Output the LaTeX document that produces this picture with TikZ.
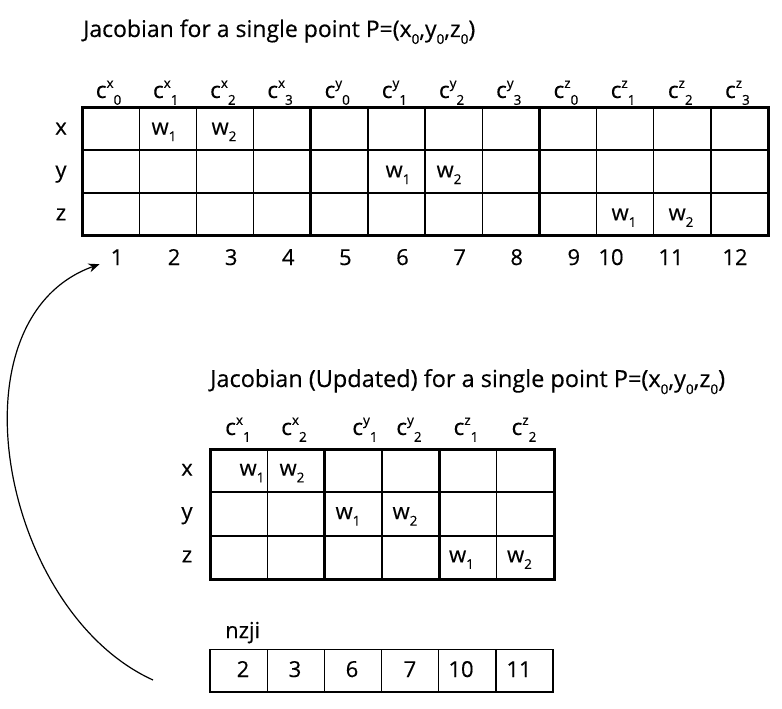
\documentclass[tikz,border=0pt]{standalone}
\usepackage{fontspec}
\setmainfont{Open Sans}[FakeBold=0.35]
\usetikzlibrary{positioning, arrows.meta, calc}

\newcommand{\jsup}[1]{\raisebox{0.45em}{\fontsize{13.5}{14}\selectfont #1}}
\newcommand{\jsub}[1]{\raisebox{-0.3em}{\fontsize{13.5}{14}\selectfont #1}}
\newcommand{\jc}[2]{c\jsup{#1}\jsub{#2}}
\newcommand{\jw}[1]{w\jsub{#1}}

\begin{document}
\begin{tikzpicture}[x=1pt, y=-1pt,
    lbl/.style={font=\fontsize{22}{26}\selectfont, inner sep=2pt, anchor=base},
    ttl/.style={font=\fontsize{23}{27}\selectfont, inner sep=0pt, anchor=base west},
    hdr/.style={font=\fontsize{22.5}{26}\selectfont, inner sep=1pt, anchor=base},
    gridthin/.style={line width=1.3pt},
    gridrow/.style={line width=2pt},
    gridthick/.style={line width=3pt},
    link/.style={line width=1.2pt, -{Stealth[length=11pt, width=9pt]}}]

    \useasboundingbox (0,0) rectangle (782,709);

    % Titre du haut
    \node[ttl] (titre1) at (83,37) {Jacobian for a single point P=(x\jsub{0},y\jsub{0},z\jsub{0})};

    % Grille du haut
    \foreach \i in {1,2,3,5,6,7,9,10,11}
        \draw[gridthin] (82+\i*57.17,107) -- (82+\i*57.17,235.7);
    \draw[gridrow] (82,149.9) -- (768,149.9) (82,192.8) -- (768,192.8);
    \draw[gridthick] (310.7,107) -- (310.7,235.7) (539.3,107) -- (539.3,235.7);
    \draw[gridthick] (82,107) rectangle (768,235.7);

    % En-tetes
    \foreach \v/\k [count=\i] in {x/0,x/1,x/2,x/3,y/0,y/1,y/2,y/3,z/0,z/1,z/2,z/3}
        \node[hdr] (h\i) at (82+\i*57.17-30.6,98) {\jc{\v}{\k}};

    \node[lbl] (rx) at (61,134.5) {x};
    \node[lbl] (ry) at (61,177.4) {y};
    \node[lbl] (rz) at (61,220.3) {z};

    % Poids
    \node[lbl] (wx1) at (164,134.5) {\jw{1}};
    \node[lbl] (wx2) at (224,134.5) {\jw{2}};
    \node[lbl] (wy1) at (398,177.4) {\jw{1}};
    \node[lbl] (wy2) at (449,177.4) {\jw{2}};
    \node[lbl] (wz1) at (624,220.3) {\jw{1}};
    \node[lbl] (wz2) at (681,220.3) {\jw{2}};

    % Numeros de colonnes
    \foreach \i in {1,...,9}
        \node[lbl] (n\i) at (117+\i*57.1-57.1,265) {\i};
    \node[lbl] (n10) at (611,265) {10};
    \node[lbl] (n11) at (671,265) {11};
    \node[lbl] (n12) at (735,265) {12};

    % Titre du bas
    \node[ttl, font=\fontsize{23.5}{27}\selectfont] (titre2) at (210,387) {Jacobian (Updated) for a single point P=(x\jsub{0},y\jsub{0},z\jsub{0})};

    % Grille du bas
    \foreach \i in {1,3,5}
        \draw[gridthin] (210+\i*57.33,449) -- (210+\i*57.33,579);
    \draw[gridrow] (210,492.3) -- (554,492.3) (210,535.7) -- (554,535.7);
    \draw[gridthick] (324.7,449) -- (324.7,579) (439.3,449) -- (439.3,579);
    \draw[gridthick] (210,449) rectangle (554,579);

    \node[hdr] (g1) at (238,435) {\jc{x}{1}};
    \node[hdr] (g2) at (294,435) {\jc{x}{2}};
    \node[hdr] (g3) at (365,435) {\jc{y}{1}};
    \node[hdr] (g4) at (409,435) {\jc{y}{2}};
    \node[hdr] (g5) at (466,435) {\jc{z}{1}};
    \node[hdr] (g6) at (524,435) {\jc{z}{2}};

    \node[lbl] (sx) at (187,475.7) {x};
    \node[lbl] (sy) at (187,519) {y};
    \node[lbl] (sz) at (187,562.3) {z};

    \node[lbl] (vx1) at (252,475.7) {\jw{1}};
    \node[lbl] (vx2) at (292,475.7) {\jw{2}};
    \node[lbl] (vy1) at (348,519) {\jw{1}};
    \node[lbl] (vy2) at (405,519) {\jw{2}};
    \node[lbl] (vz1) at (461.5,562.3) {\jw{1}};
    \node[lbl] (vz2) at (519.5,562.3) {\jw{2}};

    % Tableau nzji
    \node[ttl, font=\fontsize{22}{26}\selectfont] (nzji) at (225,638) {nzji};
    \draw[gridthin] (210,649.5) rectangle (553,692);
    \foreach \i in {1,...,5}
        \draw[gridthin] (210+\i*57.17,649.5) -- (210+\i*57.17,692);
    \node[lbl] (z1) at (243,677) {2};
    \node[lbl] (z2) at (295,677) {3};
    \node[lbl] (z3) at (352,677) {6};
    \node[lbl] (z4) at (410,677) {7};
    \node[lbl] (z5) at (461,677) {10};
    \node[lbl] (z6) at (519,677) {11};

    % Fleche de retour
    \coordinate (depart) at (153,680);
    \draw[link] (depart) .. controls (1,611) and (-53,319) .. ($(n1.south west)+(-9,-3)$);
\end{tikzpicture}
\end{document}
